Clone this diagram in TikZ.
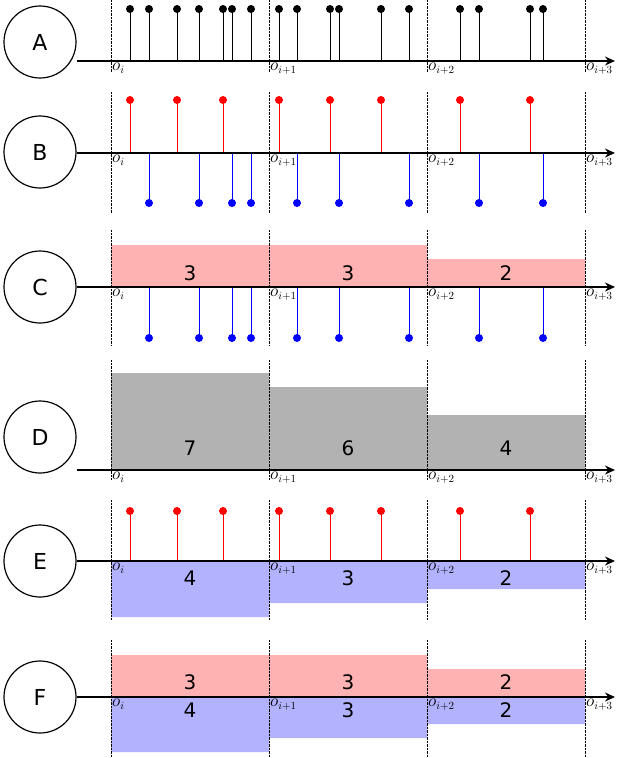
\documentclass[tikz,border=0pt]{standalone}
\usepackage{fontspec}
\setmainfont{DejaVu Sans}
\usetikzlibrary{arrows.meta}
\tikzset{
  rowlabel/.style={draw,circle,line width=1.2pt,minimum size=72pt,font=\fontsize{22}{26}\selectfont},
  count/.style={font=\fontsize{20}{24}\selectfont},
  olabel/.style={anchor=north west,inner sep=1pt,font=\fontsize{16}{18}\selectfont},
  axis/.style={line width=1.5pt,-{Stealth[length=10pt,width=9pt]}},
  sep/.style={densely dotted,thin},
  posbar/.style={red!30},
  negbar/.style={blue!30},
  totbar/.style={black!30}
}
% axis with the four boundaries: #1 axis y, #2 top, #3 bottom
\newcommand{\obsaxis}[3]{%
  \foreach \bx in {111,269,427,585}{\draw[sep] (\bx,#2) -- (\bx,#3);}
  \draw[axis] (77,#1) -- (615,#1);
  \node[olabel] at (111,#1+1) {$o_i$};
  \node[olabel] at (269,#1+1) {$o_{i+1}$};
  \node[olabel] at (427,#1+1) {$o_{i+2}$};
  \node[olabel] at (585,#1+1) {$o_{i+3}$};
}
\newcommand{\stems}[4]{%
  \foreach \sx in {#4}{\draw[#1,line width=1pt] (\sx,#2) -- (\sx,#3); \fill[#1] (\sx,#3) circle (4pt);}
}
\begin{document}
\begin{tikzpicture}[x=1pt,y=-1pt]
\useasboundingbox (0,0) rectangle (623,758);

% A
\node[rowlabel] (A) at (40,42) {A};
\stems{black}{61}{9}{130,149,177,199,223,232,251,279,297,330,339,381,409,460,479,530,543}
\obsaxis{61}{0}{72}

% B
\node[rowlabel] (B) at (40,152) {B};
\stems{red}{153}{100}{130,177,223,279,330,381,460,530}
\stems{blue}{153}{203}{149,199,232,251,297,339,409,479,543}
\obsaxis{153}{92}{213}

% C
\node[rowlabel] (C) at (40,287) {C};
\fill[posbar] (111,245) rectangle (269,287) (269,245) rectangle (427,287) (427,259) rectangle (585,287);
\node[count] (c1) at (190,273) {3};
\node[count] (c2) at (348,273) {3};
\node[count] (c3) at (506,273) {2};
\stems{blue}{287}{338}{149,199,232,251,297,339,409,479,543}
\obsaxis{287}{230}{345}

% D
\node[rowlabel] (D) at (40,437) {D};
\fill[totbar] (111,373) rectangle (269,470) (269,387) rectangle (427,470) (427,415) rectangle (585,470);
\node[count] (d1) at (190,448) {7};
\node[count] (d2) at (348,448) {6};
\node[count] (d3) at (506,448) {4};
\obsaxis{470}{360}{480}

% E
\node[rowlabel] (E) at (40,561) {E};
\fill[negbar] (111,561) rectangle (269,617) (269,561) rectangle (427,603) (427,561) rectangle (585,589);
\node[count] (e1) at (190,578) {4};
\node[count] (e2) at (348,578) {3};
\node[count] (e3) at (506,578) {2};
\stems{red}{561}{511}{130,177,223,279,330,381,460,530}
\obsaxis{561}{500}{620}

% F
\node[rowlabel] (F) at (40,697) {F};
\fill[posbar] (111,655) rectangle (269,697) (269,655) rectangle (427,697) (427,669) rectangle (585,697);
\fill[negbar] (111,697) rectangle (269,752) (269,697) rectangle (427,738) (427,697) rectangle (585,724);
\node[count] (f1) at (190,682) {3};
\node[count] (f2) at (348,682) {3};
\node[count] (f3) at (506,682) {2};
\node[count] (g1) at (190,710) {4};
\node[count] (g2) at (348,710) {3};
\node[count] (g3) at (506,710) {2};
\obsaxis{697}{640}{758}
\end{tikzpicture}
\end{document}
